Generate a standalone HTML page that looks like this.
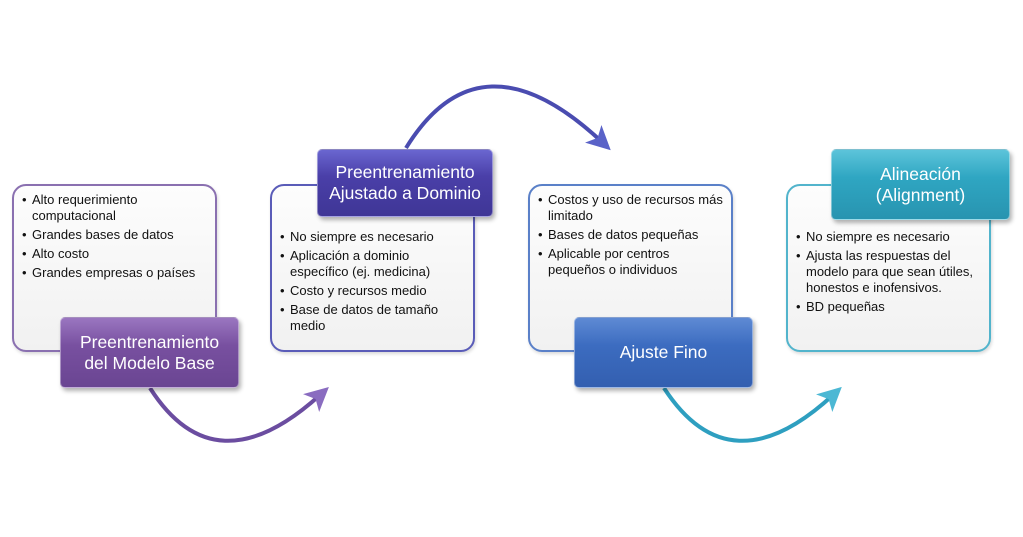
<!DOCTYPE html>
<html><head><meta charset="utf-8"><style>
body{margin:0;width:1023px;height:537px;background:#fff;position:relative;overflow:hidden;font-family:"Liberation Sans",sans-serif;}
.box{position:absolute;width:205px;height:168px;top:184px;border-radius:14px;background:linear-gradient(#fdfdfd,#f1f1f1);box-sizing:border-box;border:2px solid;box-shadow:1px 2px 3px rgba(0,0,0,.15);}
.box ul{margin:0;padding:0;list-style:none;font-size:13px;line-height:16px;color:#111;white-space:nowrap;}
.box li{position:relative;padding-left:12px;margin-bottom:3px;}
.box li:before{content:"•";position:absolute;left:2px;}
.lab{position:absolute;width:179px;height:71px;border-radius:5px;color:#fff;font-size:17.5px;line-height:21px;text-align:center;display:flex;align-items:center;justify-content:center;box-shadow:2px 3px 4px rgba(0,0,0,.3);box-sizing:border-box;border:1px solid rgba(255,255,255,.4);}
</style></head><body>
<svg width="1023" height="537" style="position:absolute;left:0;top:0">
<defs>
<marker id="ap" markerWidth="6" markerHeight="6" refX="3" refY="3" orient="auto"><path d="M0,0 L6,3 L0,6 L1.5,3z" fill="#8a6cc0"/></marker>
<marker id="ab" markerWidth="6" markerHeight="6" refX="3" refY="3" orient="auto"><path d="M0,0 L6,3 L0,6 L1.5,3z" fill="#5a62c8"/></marker>
<marker id="at" markerWidth="6" markerHeight="6" refX="3" refY="3" orient="auto"><path d="M0,0 L6,3 L0,6 L1.5,3z" fill="#4cb8d4"/></marker>
</defs>
<path d="M150,388 Q215,490 320,395" stroke="#6b4da0" stroke-width="4" fill="none" marker-end="url(#ap)"/>
<path d="M406,148 Q480,28 602,142" stroke="#4a4cb0" stroke-width="4" fill="none" marker-end="url(#ab)"/>
<path d="M664,388 Q730,490 833,395" stroke="#2e9fc0" stroke-width="4" fill="none" marker-end="url(#at)"/>
</svg>
<div class="box" style="left:12px;border-color:#8a70b0;padding:6px 6px"><ul>
<li>Alto requerimiento<br>computacional</li><li>Grandes bases de datos</li><li>Alto costo</li><li>Grandes empresas o países</li></ul></div>
<div class="box" style="left:270px;border-color:#5a5cb8;padding:43px 6px 0"><ul>
<li>No siempre es necesario</li><li>Aplicación a dominio<br>específico (ej. medicina)</li><li>Costo y recursos medio</li><li>Base de datos de tamaño<br>medio</li></ul></div>
<div class="box" style="left:528px;border-color:#5a80c8;padding:6px 6px"><ul>
<li>Costos y uso de recursos más<br>limitado</li><li>Bases de datos pequeñas</li><li>Aplicable por centros<br>pequeños o individuos</li></ul></div>
<div class="box" style="left:786px;border-color:#52b4cc;padding:43px 6px 0"><ul>
<li>No siempre es necesario</li><li>Ajusta las respuestas del<br>modelo para que sean útiles,<br>honestos e inofensivos.</li><li>BD pequeñas</li></ul></div>
<div class="lab" style="left:60px;top:317px;background:linear-gradient(#9a76c0,#7850a0 40%,#6a4592)">Preentrenamiento<br>del Modelo Base</div>
<div class="lab" style="left:317px;top:149px;width:176px;height:68px;background:linear-gradient(#6a66d0,#4a3fa8 40%,#3f3696)">Preentrenamiento<br>Ajustado a Dominio</div>
<div class="lab" style="left:574px;top:317px;background:linear-gradient(#5e8ad4,#3c6cc0 40%,#335fb0)">Ajuste Fino</div>
<div class="lab" style="left:831px;top:149px;height:71px;background:linear-gradient(#5cc4da,#2fa6c2 40%,#2894b0)">Alineación<br>(Alignment)</div>
</body></html>
